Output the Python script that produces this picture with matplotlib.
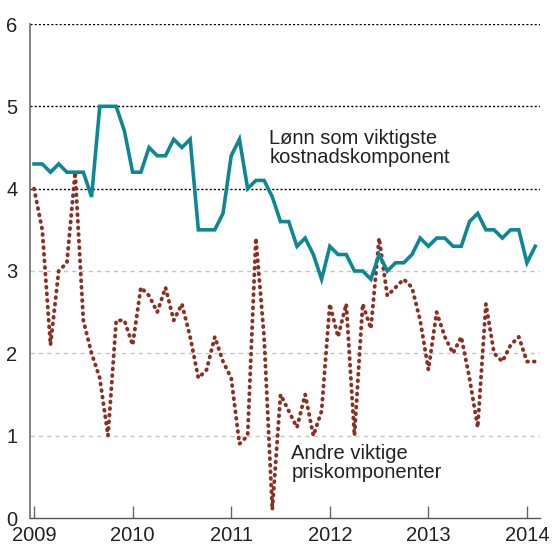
import matplotlib
matplotlib.use("Agg")
import matplotlib.pyplot as plt
import numpy as np

plt.rcParams['font.family'] = ['Liberation Sans', 'DejaVu Sans']

# Månedlige verdier, januar 2009 - februar 2014
lonn = [4.3, 4.3, 4.2, 4.3, 4.2, 4.2, 4.2, 3.9, 5.0, 5.0, 5.0, 4.7,
        4.2, 4.2, 4.5, 4.4, 4.4, 4.6, 4.5, 4.6, 3.5, 3.5, 3.5, 3.7,
        4.4, 4.6, 4.0, 4.1, 4.1, 3.9, 3.6, 3.6, 3.3, 3.4, 3.2, 2.9,
        3.3, 3.2, 3.2, 3.0, 3.0, 2.9, 3.2, 3.0, 3.1, 3.1, 3.2, 3.4,
        3.3, 3.4, 3.4, 3.3, 3.3, 3.6, 3.7, 3.5, 3.5, 3.4, 3.5, 3.5,
        3.1, 3.3]
andre = [4.0, 3.5, 2.1, 3.0, 3.1, 4.2, 2.4, 2.0, 1.7, 1.0, 2.4, 2.4,
         2.1, 2.8, 2.7, 2.5, 2.8, 2.4, 2.6, 2.2, 1.7, 1.8, 2.2, 1.9,
         1.7, 0.9, 1.0, 3.4, 2.2, 0.1, 1.5, 1.3, 1.1, 1.5, 1.0, 1.3,
         2.6, 2.2, 2.6, 1.0, 2.6, 2.3, 3.4, 2.7, 2.8, 2.9, 2.8, 2.4,
         1.8, 2.5, 2.2, 2.0, 2.2, 1.7, 1.1, 2.6, 2.0, 1.9, 2.1, 2.2,
         1.9, 1.9]
start_year = 2009
years = [2009, 2010, 2011, 2012, 2013, 2014]
yticks = [0, 1, 2, 3, 4, 5, 6]

x = start_year + np.arange(len(lonn)) / 12.0

fig = plt.figure(figsize=(5.53, 5.44), dpi=100)
ax = fig.add_axes([30 / 553, 1 - 518 / 544, 510 / 553, 494 / 544])

# rutenett: svart prikket for 4-6, lys grå stiplet for 1-3
for yv in yticks[1:]:
    if yv >= 4:
        ax.axhline(yv, color='black', lw=1.0, ls=(0, (1.5, 1.5)), zorder=1)
    else:
        ax.axhline(yv, color='#c4c4c4', lw=1.0, ls=(0, (3, 3)), zorder=1)

ax.plot(x, andre, color='#8c2f23', lw=2.8, ls=(0, (0.2, 1.5)),
        dash_capstyle='round', solid_capstyle='round', zorder=3)
ax.plot(x, lonn, color='#0f8793', lw=2.6, solid_joinstyle='miter', zorder=4)

ax.set_xlim(2008.959, 2014.132)
ax.set_ylim(0, 6)
ax.set_xticks(years)
ax.set_yticks(yticks)
ax.tick_params(axis='x', direction='in', length=9, width=1, color='#666666',
               labelsize=14.5, pad=6, labelcolor='#222222')
ax.tick_params(axis='y', length=0, labelsize=14.5, pad=9, labelcolor='#222222')

for s in ['top', 'right']:
    ax.spines[s].set_visible(False)
ax.spines['left'].set_color('#777777')
ax.spines['left'].set_linewidth(1.3)
ax.spines['bottom'].set_color('#555555')
ax.spines['bottom'].set_linewidth(1.0)

ax.text(2011.385, 4.73, 'Lønn som viktigste\nkostnadskomponent', fontsize=14.5,
        color='#222222', ha='left', va='top', linespacing=1.0)
ax.text(2011.61, 0.90, 'Andre viktige\npriskomponenter', fontsize=14.5,
        color='#222222', ha='left', va='top', linespacing=1.0)

fig.savefig('out.png', dpi=100)
